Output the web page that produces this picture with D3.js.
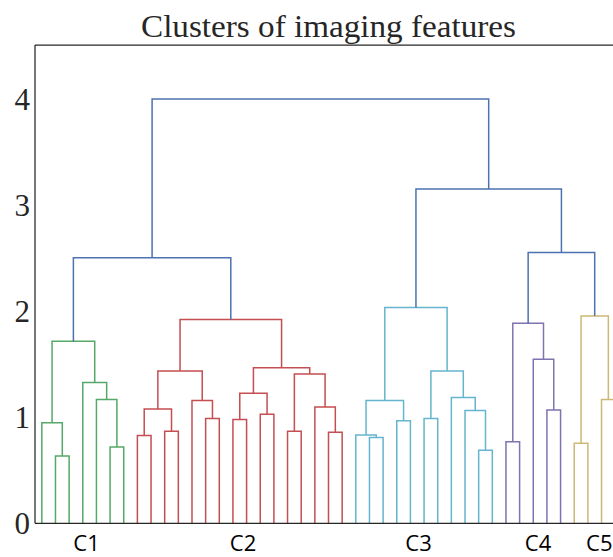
<!DOCTYPE html>
<html>
<head>
<meta charset="utf-8">
<script src="https://cdn.jsdelivr.net/npm/d3@7"></script>
<style>
  body { margin: 0; background: #fff; }
  svg { display: block; }
</style>
</head>
<body>
<svg width="613" height="557"></svg>
<script>
const svg = d3.select("svg"),
    width = +svg.attr("width"),
    height = +svg.attr("height"),
    marginLeft = 35,
    marginTop = 45,
    plotRight = 622,
    plotBottom = 523.3;

// number of leaves, in display order
const nLeaves = 43;

// linkage rows [left, right, height]; ids >= nLeaves are earlier merges (scipy style)
const linkC1 = [
    [1, 2, 0.635], [0, 43, 0.95], [5, 6, 0.72], [4, 45, 1.17], [3, 46, 1.33], [44, 47, 1.72]
];
const linkC2 = [
    [7, 8, 0.83], [9, 10, 0.87], [49, 50, 1.08], [12, 13, 0.99], [11, 52, 1.16], [51, 53, 1.44],
    [14, 15, 0.98], [16, 17, 1.03], [55, 56, 1.23], [18, 19, 0.87], [21, 22, 0.86], [20, 59, 1.10],
    [58, 60, 1.41], [57, 61, 1.47], [54, 62, 1.925]
];
const linkC3 = [
    [24, 25, 0.81], [23, 64, 0.835], [26, 27, 0.97], [65, 66, 1.16], [28, 29, 0.99], [32, 33, 0.69],
    [31, 69, 1.065], [30, 70, 1.19], [68, 71, 1.44], [67, 72, 2.04]
];
const linkC4 = [
    [34, 35, 0.77], [37, 38, 1.07], [36, 75, 1.55], [74, 76, 1.89]
];
const linkC5 = [
    [39, 40, 0.757], [41, 42, 1.17], [78, 79, 1.96]
];
const linkTop = [
    [48, 63, 2.51], [77, 80, 2.56], [73, 82, 3.16], [81, 83, 4.01]
];

const clusterLabels = ["C1", "C2", "C3", "C4", "C5"];
const clusterColors = ["#55a868", "#c44e52", "#64b5cd", "#8172b2", "#ccb974"];
const clusterTickPos = [37.4, 152, 280.6, 368.1, 413]; // in dendrogram x units
const aboveColor = "#4c72b0";
const yTicks = [0, 1, 2, 3, 4];
const yMax = 4.52;

const linkage = [linkC1, linkC2, linkC3, linkC4, linkC5, linkTop];

// build nodes
let nodes = [];
for (let i = 0; i < nLeaves; i++) nodes.push({ id: i, x: 5 + 10 * i, h: 0, color: null });
linkage.forEach((group, gi) => {
    group.forEach(row => {
        const a = nodes[row[0]], b = nodes[row[1]];
        nodes.push({
            id: nodes.length,
            x: (a.x + b.x) / 2,
            h: row[2],
            left: a, right: b,
            color: gi < 5 ? clusterColors[gi] : aboveColor
        });
    });
});

const scaleX = d3.scaleLinear().domain([0, 10 * nLeaves]).range([marginLeft, plotRight]);
const scaleY = d3.scaleLinear().domain([0, yMax]).range([plotBottom, marginTop]);

// links (U shapes)
const merges = nodes.filter(d => d.left);
svg.append("g")
    .attr("fill", "none")
    .attr("stroke-width", 1.5)
    .selectAll("path")
    .data(merges)
    .enter()
    .append("path")
    .attr("stroke", d => d.color)
    .attr("d", d => {
        const p = d3.path();
        p.moveTo(scaleX(d.left.x), scaleY(d.left.h));
        p.lineTo(scaleX(d.left.x), scaleY(d.h));
        p.lineTo(scaleX(d.right.x), scaleY(d.h));
        p.lineTo(scaleX(d.right.x), scaleY(d.right.h));
        return p.toString();
    });

// axes
const axisY = d3.axisLeft(scaleY).tickValues(yTicks).tickSize(0).tickPadding(5).tickFormat(d3.format("d"));
const gy = svg.append("g")
    .attr("transform", `translate(${marginLeft},0)`)
    .call(axisY);
gy.select(".domain").remove();
gy.selectAll("text")
    .attr("fill", "#262626")
    .style("font-family", "'Liberation Serif', serif")
    .style("font-size", "31px");

const axisX = d3.axisBottom(scaleX).tickValues(clusterTickPos).tickSize(0).tickPadding(12)
    .tickFormat((d, i) => clusterLabels[i]);
const gx = svg.append("g")
    .attr("transform", `translate(0,${plotBottom})`)
    .call(axisX);
gx.select(".domain").remove();
gx.selectAll("text")
    .attr("fill", "#000")
    .style("font-family", "'Open Sans', sans-serif")
    .style("font-size", "22px");

// spines: left, bottom, top
const spines = svg.append("g").attr("stroke", "#262626").attr("stroke-width", 1.25);
spines.append("line").attr("x1", marginLeft).attr("x2", marginLeft).attr("y1", marginTop).attr("y2", plotBottom);
spines.append("line").attr("x1", marginLeft).attr("x2", plotRight).attr("y1", plotBottom).attr("y2", plotBottom);
spines.append("line").attr("x1", marginLeft).attr("x2", plotRight).attr("y1", marginTop).attr("y2", marginTop);

svg.append("text")
    .attr("x", (marginLeft + plotRight) / 2)
    .attr("y", 37)
    .attr("text-anchor", "middle")
    .attr("fill", "#262626")
    .attr("textLength", 375)
    .attr("lengthAdjust", "spacingAndGlyphs")
    .style("font-family", "'Liberation Serif', serif")
    .style("font-size", "31px")
    .text("Clusters of imaging features");
</script>
</body>
</html>
